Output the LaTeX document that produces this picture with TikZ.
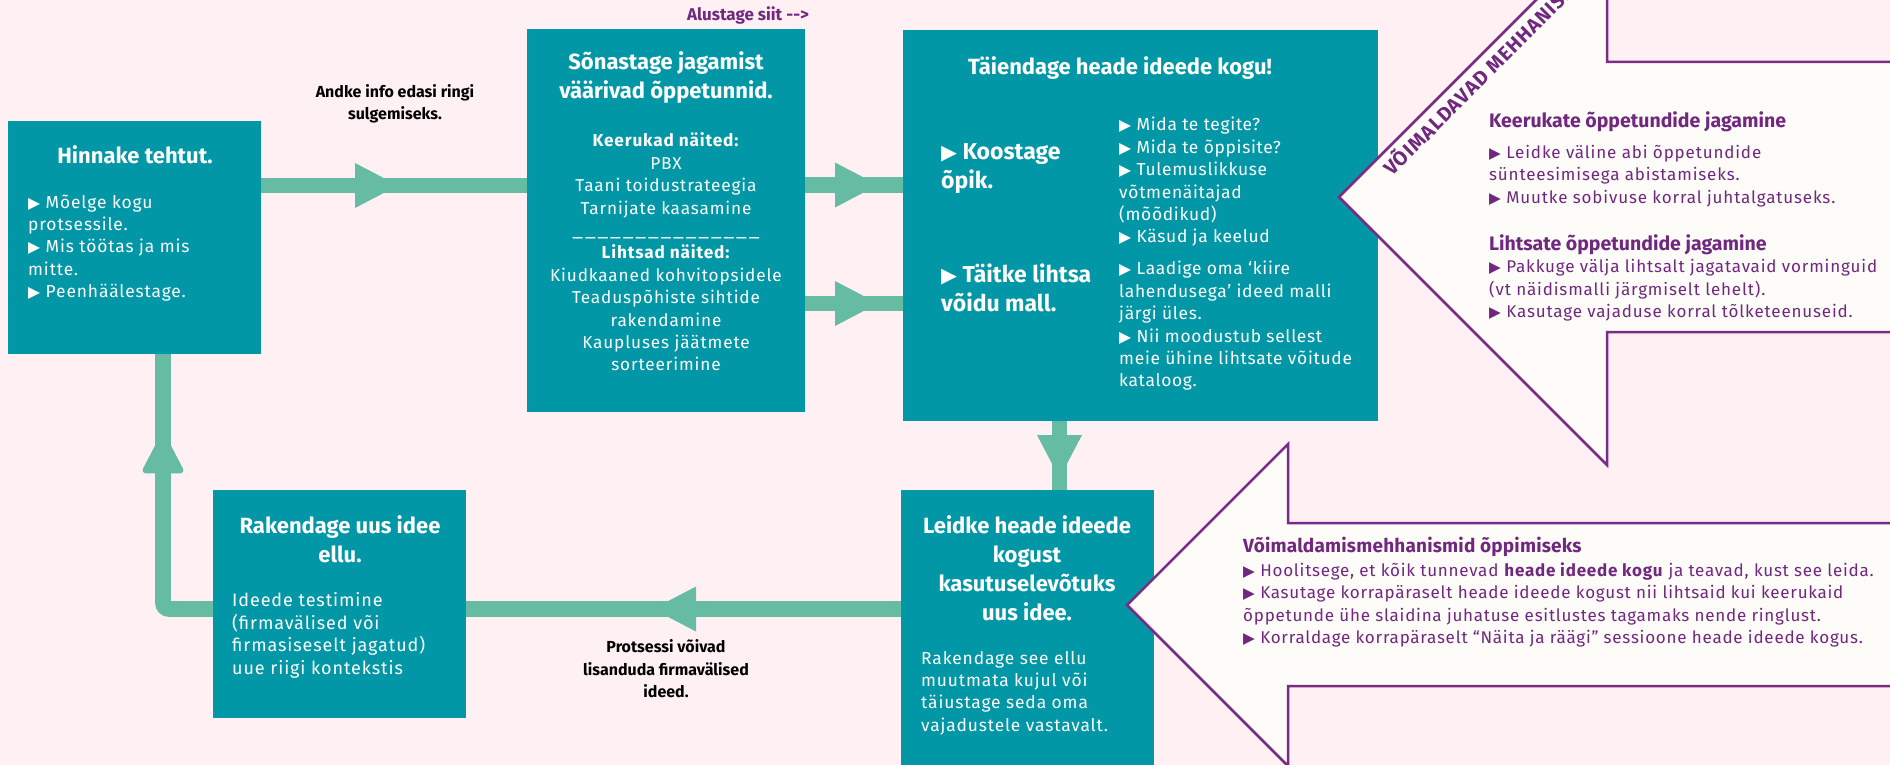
\documentclass[tikz,border=0pt]{standalone}
\usepackage{fontspec}
\usepackage{graphicx}
\setmainfont{Fira Sans}
\newfontfamily\dejavu{DejaVu Sans}
\usetikzlibrary{decorations.markings}
\definecolor{bgpink}{HTML}{FFF0F3}
\definecolor{boxteal}{HTML}{0297A6}
\definecolor{conncol}{HTML}{65BCA3}
\definecolor{purp}{HTML}{7A2C84}
\definecolor{ptext}{HTML}{712780}
\definecolor{offw}{HTML}{FDFCF8}
\newcommand{\tri}{{\dejavu\scalebox{0.9}{▶}}}
\newcommand{\bodyf}[2]{\fontsize{#1}{22.4}\selectfont\addfontfeature{LetterSpace=#2}}
\newcommand{\useg}{\makebox[12.6pt]{\scalebox{1.2}[1]{\_}}}
\tikzset{
  tbox/.style={fill=boxteal, draw=none, anchor=north west, inner sep=0pt, outer sep=0pt},
  ttl/.style={text=white, font={\fontsize{22}{29}\selectfont\bfseries}, align=center, inner sep=0pt},
  bdy/.style={text=white, align=left, inner sep=0pt, anchor=west},
  cbdy/.style={text=white, align=center, inner sep=0pt},
  lbl/.style={text=black, font={\fontsize{16}{22.4}\selectfont\bfseries}, align=center, inner sep=0pt},
  conn/.style={draw=conncol, line width=15.6pt},
  midarrow/.style={postaction={decorate}, decoration={markings, mark=at position #1 with {\fill[conncol] (0,-22.5) -- (43,0) -- (0,22.5) -- cycle;}}},
  parrow/.style={draw=purp, fill=offw, line width=2.5pt, line join=miter},
  phead/.style={text=ptext, anchor=west, inner sep=0pt},
  pbdy/.style={text=ptext, align=left, anchor=west, inner sep=0pt},
}
\begin{document}
\begin{tikzpicture}[x=1pt, y=-1pt]
\useasboundingbox (0,0) rectangle (1890,765);
\fill[bgpink] (0,0) rectangle (1890,765);

% boxes
\node[tbox, minimum width=253pt, minimum height=233pt] (A) at (8,121) {};
\node[tbox, minimum width=278pt, minimum height=383pt] (B) at (527,29) {};
\node[tbox, minimum width=475pt, minimum height=391pt] (C) at (903,30) {};
\node[tbox, minimum width=253pt, minimum height=280pt] (D) at (901,490) {};
\node[tbox, minimum width=253pt, minimum height=228pt] (E) at (213,490) {};

% helper coordinates
\coordinate (yab) at (0,185.5);
\coordinate (ybc1) at (0,185);
\coordinate (ybc2) at (0,303.5);
\coordinate (xcd) at (1059.5,0);
\coordinate (yde) at (0,609);
\coordinate (corner) at (163,609);
\coordinate (xea) at (163,0);

% connectors
\draw[conn, midarrow=94pt] (A.east |- yab) -- (B.west |- yab);
\draw[conn, midarrow=30pt] (B.east |- ybc1) -- (C.west |- ybc1);
\draw[conn, midarrow=30pt] (B.east |- ybc2) -- (C.west |- ybc2);
\draw[conn, midarrow=14pt] (C.south -| xcd) -- (D.north -| xcd);
\draw[conn, midarrow=205pt] (D.west |- yde) -- (E.east |- yde);
\draw[conn, rounded corners=6pt, midarrow=183pt] (E.west |- yde) -- (corner) -- (A.south -| xea);

% redraw boxes on top of connector ends
\fill[boxteal] (A.north west) rectangle (A.south east);
\fill[boxteal] (B.north west) rectangle (B.south east);
\fill[boxteal] (C.north west) rectangle (C.south east);
\fill[boxteal] (D.north west) rectangle (D.south east);
\fill[boxteal] (E.north west) rectangle (E.south east);

% purple arrows
\draw[parrow] (1339,197) -- (1607,-71) -- (1607,62) -- (1960,62) -- (1960,332) -- (1607,332) -- (1607,465) -- cycle;
\draw[parrow] (1127,605) -- (1288,444) -- (1288,523) -- (1960,523) -- (1960,686) -- (1288,686) -- (1288,766) -- cycle;

% Box A
\node[ttl] (At) at (135,155) {Hinnake tehtut.};
\node[bdy, font={\bodyf{17.4}{5}}] (Ab) at (28,248) {\tri{} Mõelge kogu\\protsessile.\\\tri{} Mis töötas ja mis\\mitte.\\\tri{} Peenhäälestage.};

% label A-B
\node[lbl] (lab1) at (395,104) {Andke info edasi ringi\\sulgemiseks.};

% start label
\node[text=ptext, font={\fontsize{17}{20}\selectfont\bfseries}, inner sep=0pt] (start) at (748,15) {Alustage siit -{}->};

% Box B
\node[ttl] (Bt) at (666,77.5) {Sõnastage jagamist\\väärivad õppetunnid.};
\node[cbdy, font={\bodyf{17.2}{5}}] (Bb) at (666,252) {\textbf{Keerukad näited:}\\PBX\\Taani toidustrateegia\\Tarnijate kaasamine\\\useg\useg\useg\useg\useg\useg\useg\useg\useg\useg\useg\useg\useg\useg\useg\\\textbf{Lihtsad näited:}\\Kiudkaaned kohvitopsidele\\Teaduspõhiste sihtide\\rakendamine\\Kaupluses jäätmete\\sorteerimine};

% Box C
\node[ttl] (Ct) at (1120,68) {Täiendage heade ideede kogu!};
\node[ttl, font={\fontsize{23}{29}\selectfont\bfseries}, align=left, anchor=west] (C1) at (941,169) {\tri{} Koostage\\õpik.};
\node[ttl, font={\fontsize{23}{29}\selectfont\bfseries}, align=left, anchor=west] (C2) at (941,287.5) {\tri{} Täitke lihtsa\\võidu mall.};
\node[bdy, font={\bodyf{17.4}{4}}] (C1b) at (1119,182) {\tri{} Mida te tegite?\\\tri{} Mida te õppisite?\\\tri{} Tulemuslikkuse\\võtmenäitajad\\(mõõdikud)\\\tri{} Käsud ja keelud};
\node[bdy, font={\bodyf{17.4}{4}}] (C2b) at (1119,326) {\tri{} Laadige oma ‘kiire\\lahendusega’ ideed malli\\järgi üles.\\\tri{} Nii moodustub sellest\\meie ühine lihtsate võitude\\kataloog.};

% Box D
\node[ttl] (Dt) at (1027,568.5) {Leidke heade ideede\\kogust\\kasutuselevõtuks\\uus idee.};
\node[bdy, font={\bodyf{17.4}{5}}] (Db) at (921,693) {Rakendage see ellu\\muutmata kujul või\\täiustage seda oma\\vajadustele vastavalt.};

% Box E
\node[ttl] (Et) at (340,539.5) {Rakendage uus idee\\ellu.};
\node[bdy, font={\bodyf{18}{5}}] (Eb) at (232,635.4) {Ideede testimine\\(firmavälised või\\firmasiseselt jagatud)\\uue riigi kontekstis};

% label D-E
\node[lbl] (lab2) at (666,669) {Protsessi võivad\\lisanduda firmavälised\\ideed.};

% upper purple arrow text
\node[rotate=45, anchor=base west, text=ptext, font={\fontsize{20}{22}\selectfont\bfseries\addfontfeature{LetterSpace=5}}, inner sep=0pt] (vm) at (1392,177) {VÕIMALDAVAD MEHHANISMID};
\node[phead, font={\fontsize{19.5}{24}\selectfont\bfseries}] (h1) at (1489,122) {Keerukate õppetundide jagamine};
\node[pbdy, font={\bodyf{17}{5}}] (p1) at (1489,176) {\tri{} Leidke väline abi õppetundide\\sünteesimisega abistamiseks.\\\tri{} Muutke sobivuse korral juhtalgatuseks.};
\node[phead, font={\fontsize{19.5}{24}\selectfont\bfseries}] (h2) at (1489,245) {Lihtsate õppetundide jagamine};
\node[pbdy, font={\bodyf{17}{5}}] (p2) at (1489,290.5) {\tri{} Pakkuge välja lihtsalt jagatavaid vorminguid\\(vt näidismalli järgmiselt lehelt).\\\tri{} Kasutage vajaduse korral tõlketeenuseid.};

% lower purple arrow text
\node[phead, font={\fontsize{19}{24}\selectfont\bfseries\addfontfeature{LetterSpace=1}}] (h3) at (1243,546.7) {Võimaldamismehhanismid õppimiseks};
\node[pbdy, font={\bodyf{17}{4.5}}] (p3) at (1243,605) {\tri{} Hoolitsege, et kõik tunnevad \textbf{heade ideede kogu} ja teavad, kust see leida.\\\tri{} Kasutage korrapäraselt heade ideede kogust nii lihtsaid kui keerukaid\\õppetunde ühe slaidina juhatuse esitlustes tagamaks nende ringlust.\\\tri{} Korraldage korrapäraselt “Näita ja räägi” sessioone heade ideede kogus.};
\end{tikzpicture}
\end{document}
